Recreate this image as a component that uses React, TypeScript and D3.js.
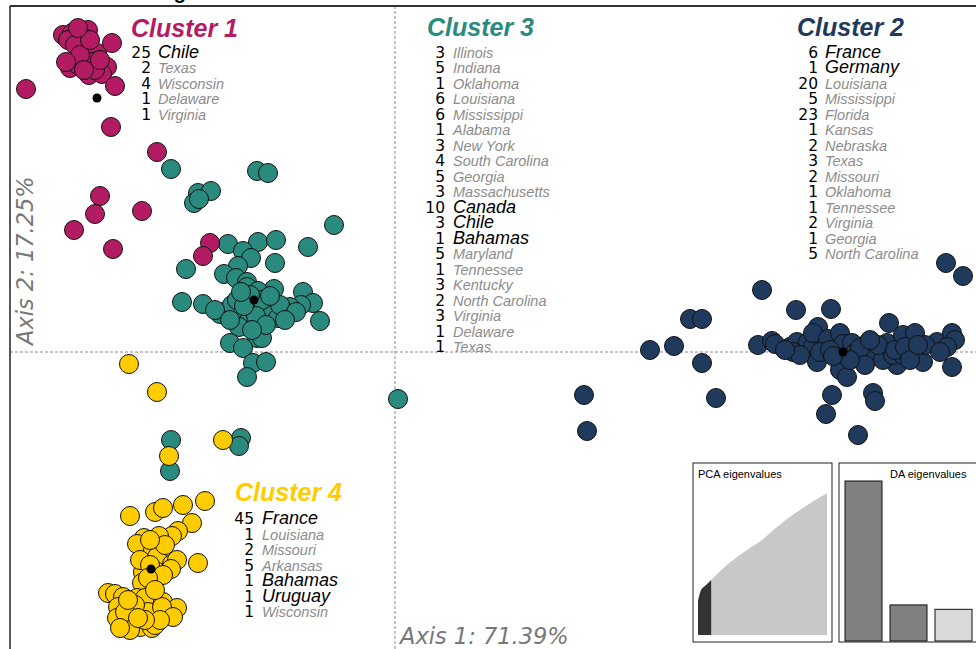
import React from "react";
import * as d3 from "d3";

// ---- data (LD1, LD2 scores) ----
const cluster1: [number, number][] = [
  [-33.2, 31.7], [-32.3, 31.9], [-30.7, 32.2], [-32.7, 31.2], [-31.2, 31.5], [-31.0, 30.5],
  [-29.8, 29.9], [-28.3, 30.9], [-32.5, 28.4], [-31.7, 28.7], [-30.3, 29.0], [-28.8, 28.5],
  [-30.6, 27.7], [-29.3, 27.8], [-28.0, 26.6], [-36.9, 26.3], [-28.4, 22.5], [-23.8, 20.0],
  [-29.5, 15.6], [-30.0, 13.8], [-25.3, 14.1], [-32.1, 12.2], [-28.2, 10.3], [-18.5, 10.9],
  [-19.2, 9.6], [-32.0, 30.7], [-31.5, 29.7], [-30.0, 28.2], [-31.1, 28.2], [-29.5, 29.2],
  [-32.9, 29.0], [-30.5, 31.2], [-31.7, 32.4],
];
const cluster3: [number, number][] = [
  [-22.4, 18.3], [-13.8, 18.1], [-12.7, 17.9], [-19.7, 15.9], [-18.4, 16.1], [-20.1, 14.9],
  [-19.6, 15.3], [-6.1, 12.7], [-16.7, 10.8], [-13.7, 11.0], [-11.9, 11.2], [-8.7, 10.5],
  [-15.2, 10.1], [-14.4, 9.4], [-12.0, 8.9], [-15.7, 8.6], [-20.9, 8.3], [-17.1, 7.8],
  [-15.9, 7.4], [-14.8, 7.0], [-14.8, 6.5], [-12.1, 6.3], [-9.2, 6.0], [-13.7, 6.1],
  [-21.3, 5.0], [-19.2, 4.8], [-8.2, 4.9], [-9.4, 4.7], [-10.5, 4.5], [-17.1, 4.0],
  [-17.5, 3.8], [-15.2, 3.9], [-14.2, 4.2], [-12.7, 4.0], [-11.7, 3.4], [-10.7, 3.9],
  [-7.5, 3.1], [-14.7, 3.0], [-13.6, 3.0], [-15.6, 2.5], [-13.8, 1.4], [-13.3, 1.4],
  [-16.5, 0.9], [-15.2, 0.4], [-14.2, -1.1], [-12.9, -1.0], [-14.8, -2.5], [0.3, -4.7],
  [-22.4, -8.8], [-22.5, -11.9], [-15.4, -8.6], [-15.6, -9.4], [-16.3, 4.7], [-13.3, 5.2],
  [-11.5, 4.7], [-14.5, 5.7], [-15.8, 5.2], [-12.5, 5.6], [-18.0, 4.2], [-9.9, 4.0],
  [-13.9, 3.6], [-15.1, 4.6], [-16.5, 3.2], [-11.0, 3.2], [-12.9, 2.7], [-14.3, 2.2],
  [-15.4, 6.0],
];
const cluster2: [number, number][] = [
  [55.1, 8.9], [56.8, 7.6], [36.7, 6.2], [40.1, 4.2], [43.6, 4.3], [29.5, 3.3], [30.7, 3.3],
  [49.4, 2.9], [25.5, 0.2], [27.9, 0.6], [30.7, -1.1], [36.3, 0.7], [37.7, 1.1], [38.0, 0.8],
  [39.5, 0.5], [40.2, 1.0], [41.3, 1.0], [41.8, 0.5], [42.3, 2.5], [41.8, 1.9], [43.3, 1.3],
  [44.5, 1.9], [44.8, 0.8], [45.7, 0.9], [47.3, 0.9], [47.8, 0.0], [48.7, -0.6], [49.2, 0.9],
  [50.8, 1.7], [52.0, 1.9], [51.7, -0.1], [52.8, -1.0], [50.2, -1.3], [54.2, 1.0], [55.7, 1.9],
  [56.0, 1.2], [55.2, 0.5], [55.7, -1.5], [39.8, 0.0], [42.2, -1.0], [44.5, -1.1], [44.5, -1.8],
  [45.2, -2.5], [46.0, -0.1], [47.2, -0.5], [48.0, 0.0], [48.8, -0.8], [49.8, -0.3], [50.8, -0.3],
  [18.9, -4.3], [19.2, -7.9], [32.1, -4.6], [43.7, -4.3], [47.8, -4.1], [48.0, -4.9], [43.1, -6.2],
  [46.3, -8.3], [42.5, 0.0], [43.5, 0.2], [46.5, 0.4], [48.3, 0.7], [50.0, 0.2], [51.0, 0.5],
  [53.0, 0.7], [54.5, 0.0], [40.5, -0.3], [39.0, 0.2], [47.0, -1.3], [45.5, -0.8], [43.8, -0.4],
  [47.5, 1.2], [51.5, -0.8], [52.3, 0.7],
];
const cluster4: [number, number][] = [
  [-26.6, -1.2], [-23.8, -4.0], [-17.2, -8.8], [-22.6, -10.4], [-26.5, -16.4], [-24.0, -16.0],
  [-23.2, -15.6], [-21.2, -15.3], [-19.0, -14.9], [-20.3, -17.1], [-21.7, -17.9], [-22.3, -18.4],
  [-23.6, -18.4], [-25.1, -18.6], [-25.8, -19.2], [-24.2, -19.8], [-23.8, -20.5], [-22.3, -21.2],
  [-21.8, -20.8], [-22.4, -21.7], [-19.7, -21.1], [-25.2, -22.0], [-23.8, -22.0], [-25.3, -23.1],
  [-28.7, -24.1], [-28.0, -24.2], [-27.2, -24.5], [-25.8, -24.6], [-25.0, -24.6], [-23.2, -25.0],
  [-21.8, -25.6], [-27.7, -25.5], [-26.7, -25.8], [-24.7, -26.0], [-23.3, -25.5], [-22.2, -26.5],
  [-27.8, -26.6], [-26.5, -27.0], [-25.5, -27.5], [-24.3, -27.6], [-26.5, -27.8], [-24.0, -27.3],
  [-25.5, -20.8], [-24.5, -21.3], [-23.2, -22.3], [-24.7, -22.6], [-26.0, -25.3], [-27.0, -26.0],
  [-24.0, -23.8], [-23.5, -26.8], [-25.0, -26.8], [-27.5, -27.6], [-25.7, -26.6], [-23.0, -19.3],
  [-24.5, -18.8], [-26.7, -24.8],
];
const centroids: [number, number][] = [[-29.8, 25.4], [44.8, 0.0], [-14.1, 5.2], [-24.4, -21.7]];

const clusterNames = ["Cluster 1", "Cluster 2", "Cluster 3", "Cluster 4"];
const clusterColors = ["#B31B62", "#1F3A5C", "#2A8A7D", "#FFCC00"];

const c1Counts = [25, 2, 4, 1, 1];
const c1Labels = ["Chile", "Texas", "Wisconsin", "Delaware", "Virginia"];
const c2Counts = [6, 1, 20, 5, 23, 1, 2, 3, 2, 1, 1, 2, 1, 5];
const c2Labels = ["France", "Germany", "Louisiana", "Mississippi", "Florida", "Kansas", "Nebraska", "Texas",
  "Missouri", "Oklahoma", "Tennessee", "Virginia", "Georgia", "North Carolina"];
const c3Counts = [3, 5, 1, 6, 6, 1, 3, 4, 5, 3, 10, 3, 1, 5, 1, 3, 2, 3, 1, 1];
const c3Labels = ["Illinois", "Indiana", "Oklahoma", "Louisiana", "Mississippi", "Alabama", "New York",
  "South Carolina", "Georgia", "Massachusetts", "Canada", "Chile", "Bahamas", "Maryland", "Tennessee",
  "Kentucky", "North Carolina", "Virginia", "Delaware", "Texas"];
const c4Counts = [45, 1, 2, 5, 1, 1, 1];
const c4Labels = ["France", "Louisiana", "Missouri", "Arkansas", "Bahamas", "Uruguay", "Wisconsin"];
const countries = ["Chile", "France", "Germany", "Canada", "Bahamas", "Uruguay"];

const axis1Label = "Axis 1: 71.39%";
const axis2Label = "Axis 2: 17.25%";

const pcaPC = [1, 2, 3, 4, 5, 10, 15, 20, 25, 30, 35, 40];
const pcaCumVar = [22, 29, 31, 33, 35, 45, 53, 60, 69, 77, 84, 90.5];
const pcaRetained = 5;
const daEig = [510, 115, 101];

const W = 976, H = 649;

export default function App() {
  const x = d3.scaleLinear().domain([-40, 60]).range([-5, 995]);
  const y = d3.scaleLinear().domain([36, -32]).range([-8, 672]);
  const clusters = [cluster1, cluster2, cluster3, cluster4];
  const drawOrder = [2, 3, 0, 1];

  const listBlock = (
    key: string, counts: number[], labels: string[], numRight: number, nameX: number, baseY: number,
  ) => (
    <g key={key}>
      {counts.map((c, i) => {
        const isC = countries.includes(labels[i]);
        const yy = baseY + i * 15.5;
        return (
          <g key={i}>
            <text x={numRight} y={yy} textAnchor="end" fontFamily="DejaVu Sans" fontSize={15.5} fill="#000">{c}</text>
            <text x={nameX} y={yy} fontFamily="Liberation Sans, Arial" fontStyle="italic"
              fontSize={isC ? 18 : 14.5} fill={isC ? "#000" : "#8c8c8c"}>{labels[i]}</text>
          </g>
        );
      })}
    </g>
  );

  // PCA inset
  const pcaBox = { x: 693, y: 463, w: 139, h: 179 };
  const px = d3.scaleLinear().domain([1, 40]).range([698, 827]);
  const py = d3.scaleLinear().domain([0, 100]).range([635, 478]);
  const pts = pcaPC.map((p, i) => ({ p, v: pcaCumVar[i] }));
  const area = d3.area<{ p: number; v: number }>()
    .x((d) => px(d.p)).y0(py(0)).y1((d) => py(d.v)).curve(d3.curveMonotoneX);
  const darkPts = pts.filter((d) => d.p <= pcaRetained);
  const lightPts = pts.filter((d) => d.p >= pcaRetained);

  // DA inset
  const daBox = { x: 839, y: 463, w: 150, h: 179 };
  const dx = d3.scaleBand<number>().domain(daEig.map((_, i) => i)).range([845, 972]).paddingInner(0.178).paddingOuter(0);
  const dy = d3.scaleLinear().domain([0, 510]).range([641, 481]);
  const daFill = ["#808080", "#808080", "#d9d9d9"];

  return (
    <svg width={W} height={H} style={{ position: "absolute", left: 0, top: 0, background: "#fff" }}>
      <rect x={0} y={0} width={W} height={H} fill="#fff" />
      <text x={186} y={-1} textAnchor="end" fontFamily="Liberation Sans, Arial" fontWeight="bold" fontSize={20} fill="#000">Clustering</text>
      {/* axes */}
      <line x1={10} x2={W} y1={y(0)} y2={y(0)} stroke="#8a8a8a" strokeWidth={1} strokeDasharray="3,2" />
      <line x1={x(0)} x2={x(0)} y1={6} y2={H} stroke="#8a8a8a" strokeWidth={1} strokeDasharray="3,2" />
      {/* frame */}
      <line x1={10} x2={W} y1={6} y2={6} stroke="#333" strokeWidth={2} />
      <line x1={10} x2={10} y1={6} y2={H} stroke="#222" strokeWidth={1.5} />

      {/* cluster lists */}
      {listBlock("l1", c1Counts, c1Labels, 151, 158, 57.5)}
      {listBlock("l3", c3Counts, c3Labels, 445, 453, 57.5)}
      {listBlock("l2", c2Counts, c2Labels, 818, 825, 57.5)}
      {listBlock("l4", c4Counts, c4Labels, 254, 262, 524)}

      {/* points */}
      {drawOrder.map((ci) => (
        <g key={ci}>
          {clusters[ci].map((d, i) => (
            <circle key={i} cx={x(d[0])} cy={y(d[1])} r={9.5} fill={clusterColors[ci]} stroke="#111" strokeWidth={1} />
          ))}
        </g>
      ))}
      {centroids.map((d, i) => (
        <circle key={i} cx={x(d[0])} cy={y(d[1])} r={4.5} fill="#000" />
      ))}

      {/* cluster titles */}
      <text x={131} y={37} fontFamily="Liberation Sans, Arial" fontWeight="bold" fontStyle="italic" fontSize={25} fill={clusterColors[0]}>{clusterNames[0]}</text>
      <text x={797} y={36} fontFamily="Liberation Sans, Arial" fontWeight="bold" fontStyle="italic" fontSize={25} fill={clusterColors[1]}>{clusterNames[1]}</text>
      <text x={427} y={36} fontFamily="Liberation Sans, Arial" fontWeight="bold" fontStyle="italic" fontSize={25} fill={clusterColors[2]}>{clusterNames[2]}</text>
      <text x={235} y={501} fontFamily="Liberation Sans, Arial" fontWeight="bold" fontStyle="italic" fontSize={25} fill={clusterColors[3]}>{clusterNames[3]}</text>

      {/* axis labels */}
      <text x={400} y={644} fontFamily="DejaVu Sans" fontStyle="italic" fontSize={22.5} fill="#777">{axis1Label}</text>
      <text transform="translate(33,345) rotate(-90)" fontFamily="DejaVu Sans" fontStyle="italic" fontSize={22.5} fill="#777">{axis2Label}</text>

      {/* PCA eigenvalues inset */}
      <rect x={pcaBox.x} y={pcaBox.y} width={pcaBox.w} height={pcaBox.h} fill="#fff" stroke="#222" strokeWidth={1} />
      <path d={area(lightPts) || ""} fill="#c8c8c8" />
      <path d={area(darkPts) || ""} fill="#333" />
      <text x={698} y={478} fontFamily="Liberation Sans, Arial" fontSize={11} fill="#000">PCA eigenvalues</text>

      {/* DA eigenvalues inset */}
      <rect x={daBox.x} y={daBox.y} width={daBox.w} height={daBox.h} fill="#fff" stroke="#222" strokeWidth={1} />
      {daEig.map((v, i) => (
        <rect key={i} x={dx(i)} y={dy(v)} width={dx.bandwidth()} height={dy(0) - dy(v)} fill={daFill[i]} stroke="#111" strokeWidth={1} />
      ))}
      <text x={890} y={478} fontFamily="Liberation Sans, Arial" fontSize={11} fill="#000">DA eigenvalues</text>
    </svg>
  );
}
